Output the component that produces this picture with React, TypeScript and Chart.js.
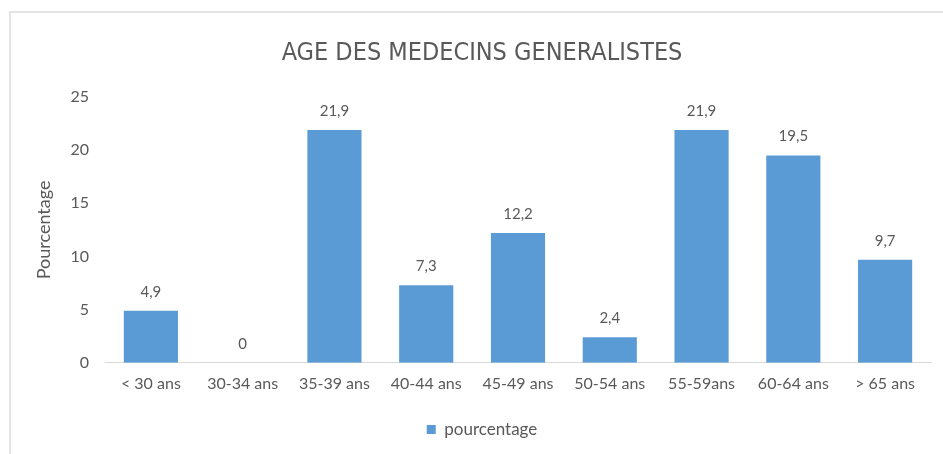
import React, { useEffect, useRef } from "react";
import { Chart, registerables } from "chart.js";

Chart.register(...registerables);

const categories = ["< 30 ans", "30-34 ans", "35-39 ans", "40-44 ans", "45-49 ans", "50-54 ans", "55-59ans", "60-64 ans", "> 65 ans"];
const pourcentage = [4.9, 0, 21.9, 7.3, 12.2, 2.4, 21.9, 19.5, 9.7];
const yTicks = [0, 5, 10, 15, 20, 25];

const TEXT = "#595959";
const BAR = "#5b9bd5";
const FONT = "Lato, 'Open Sans', sans-serif";

const framePlugin = {
  id: "frame",
  beforeDraw(chart: any) {
    const ctx = chart.ctx;
    ctx.save();
    ctx.strokeStyle = "#e4e4e4";
    ctx.lineWidth = 2;
    ctx.beginPath();
    ctx.moveTo(10, chart.height);
    ctx.lineTo(10, 12);
    ctx.lineTo(chart.width, 12);
    ctx.stroke();
    ctx.restore();
  },
};

const valueLabels = {
  id: "valueLabels",
  afterDatasetsDraw(chart: any) {
    const ctx = chart.ctx;
    const meta = chart.getDatasetMeta(0);
    const data = chart.data.datasets[0].data as number[];
    ctx.save();
    ctx.font = `15px ${FONT}`;
    ctx.fillStyle = TEXT;
    ctx.textAlign = "center";
    ctx.textBaseline = "middle";
    meta.data.forEach((el: any, i: number) => {
      const txt = String(data[i]).replace(".", ",");
      ctx.fillText(txt, el.x, el.y - 19);
    });
    ctx.restore();
  },
};

export default function App() {
  const ref = useRef<HTMLCanvasElement | null>(null);
  useEffect(() => {
    if (!ref.current) return;
    const chart = new Chart(ref.current, {
      type: "bar",
      data: {
        labels: categories,
        datasets: [
          {
            label: "pourcentage",
            data: pourcentage,
            backgroundColor: BAR,
            barPercentage: 0.59,
            categoryPercentage: 1,
          },
        ],
      },
      options: {
        animation: false,
        responsive: true,
        maintainAspectRatio: false,
        layout: { padding: { left: 33, right: 12, top: 12, bottom: 6 } },
        plugins: {
          title: {
            display: true,
            text: "AGE DES MEDECINS GENERALISTES",
            color: TEXT,
            font: { family: "'Liberation Sans Narrow', 'DejaVu Sans Condensed', sans-serif", size: 25, weight: "normal" },
            padding: { top: 26, bottom: 29 },
          },
          legend: {
            display: true,
            position: "bottom",
            labels: {
              color: TEXT,
              font: { family: FONT, size: 17 },
              boxWidth: 9,
              boxHeight: 9,
              padding: 10,
            },
          },
          tooltip: { enabled: false },
        },
        scales: {
          x: {
            grid: { display: false, drawTicks: false },
            border: { display: true, color: "#d9d9d9", width: 1 },
            ticks: { color: TEXT, font: { family: FONT, size: 16 }, padding: 11, maxRotation: 0 },
            afterFit(scale: any) {
              scale.height = scale.height + 7;
            },
          },
          y: {
            min: 0,
            max: 25,
            afterBuildTicks(scale: any) {
              scale.ticks = yTicks.map((v) => ({ value: v }));
            },
            afterFit(scale: any) {
              scale.width = 72;
            },
            grid: { display: false, drawTicks: false },
            border: { display: false },
            ticks: { color: TEXT, font: { family: FONT, size: 16 }, padding: 16 },
            title: {
              display: true,
              text: "Pourcentage",
              color: TEXT,
              font: { family: FONT, size: 18 },
              padding: { top: 0, bottom: 0 },
            },
          },
        },
      },
      plugins: [framePlugin, valueLabels],
    });
    return () => chart.destroy();
  }, []);
  return (
    <div style={{ position: "fixed", left: 0, top: 0, width: 943, height: 454 }}>
      <canvas ref={ref} />
    </div>
  );
}
